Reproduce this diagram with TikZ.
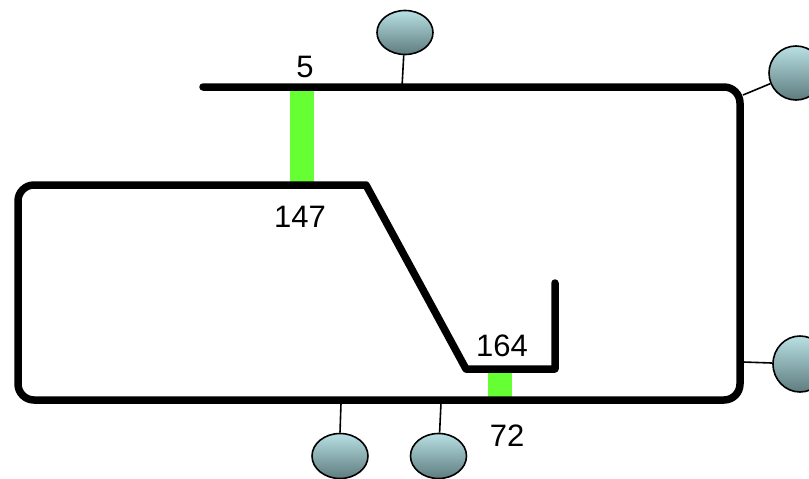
\documentclass[tikz,border=0pt]{standalone}
\usepackage{fontspec}
\setmainfont{Liberation Sans}
\usetikzlibrary{shapes.geometric}
\definecolor{barg}{HTML}{66FF33}
\definecolor{hosttop}{HTML}{B8E0E3}
\definecolor{hostbot}{HTML}{5E7C7E}
\tikzset{
  wire/.style={line width=7.5pt, line join=round, line cap=round, rounded corners=16pt},
  host/.style={ellipse, draw=black, line width=1.6pt, top color=hosttop, bottom color=hostbot, minimum width=56pt, minimum height=44pt, inner sep=0pt},
  stem/.style={line width=1.6pt},
  lbl/.style={font=\fontsize{31}{32}\selectfont, inner sep=0pt}
}
\begin{document}
\begin{tikzpicture}[x=1pt,y=-1pt]
\useasboundingbox (0,0) rectangle (809,479);
% green bars
\fill[barg] (290,90) rectangle (314,182);
\fill[barg] (488,372) rectangle (512,397);
% main wire
\draw[wire] (203,87) -- (740,87) -- (740,400) -- (18,400) -- (18,185) [sharp corners] -- (366,185) -- (466,369) -- (555,369) -- (555,283);
% labels
\node[lbl] (l5) at (305,67) {5};
\node[lbl] (l147) at (300,217) {147};
\node[lbl] (l164) at (502,346) {164};
\node[lbl] (l72) at (507,436) {72};
% hosts
\node[host] (h1) at (405,32.5) {};
\node[host, minimum width=54pt, minimum height=54pt] (h2) at (796,73) {};
\node[host, minimum width=54pt, minimum height=56pt] (h3) at (800,364) {};
\node[host, minimum height=45pt] (h4) at (340,456) {};
\node[host, minimum height=45pt] (h5) at (438.5,456) {};
% attachment points
\coordinate (a1) at (402,87);
\coordinate (a2) at (743,95);
\coordinate (a3) at (743,362);
\coordinate (a4) at (341,403);
\coordinate (a5) at (441,403);
\draw[stem] (h1) -- (a1);
\draw[stem] (h2) -- (a2);
\draw[stem] (h3) -- (a3);
\draw[stem] (h4.north) -- (a4);
\draw[stem] (h5) -- (a5);
\end{tikzpicture}
\end{document}
